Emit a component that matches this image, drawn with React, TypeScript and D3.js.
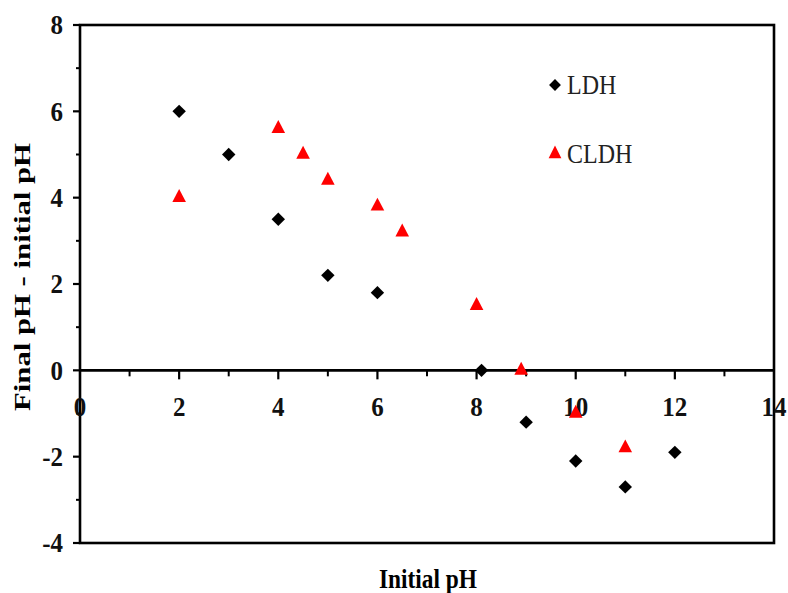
import React from 'react'
import * as d3 from 'd3'

// values
const ldhX = [2, 3, 4, 5, 6, 8.1, 9, 10, 11, 12]
const ldhY = [6, 5, 3.5, 2.2, 1.8, 0, -1.2, -2.1, -2.7, -1.9]
const cldhX = [2, 4, 4.5, 5, 6, 6.5, 8, 8.9, 10, 11]
const cldhY = [4, 5.6, 5, 4.4, 3.8, 3.2, 1.5, 0, -1, -1.8]
const xTicks = [0, 2, 4, 6, 8, 10, 12, 14]
const yTicks = [-4, -2, 0, 2, 4, 6, 8]
const xMinor = [1, 3, 5, 7, 9, 11, 13]
const yMinor = [-3, -1, 1, 3, 5, 7]

const W = 788
const H = 593
const margin = { top: 25, right: 14, bottom: 50, left: 80 }
const font = '"Liberation Serif", "Times New Roman", serif'

const App = () => {
  const x = d3.scaleLinear().domain([0, 14]).range([margin.left, W - margin.right])
  const y = d3.scaleLinear().domain([-4, 8]).range([H - margin.bottom, margin.top])

  const diamond = d3.symbol().type(d3.symbolSquare).size(90)()
  const triangle = d3.symbol().type(d3.symbolTriangle).size(80)()

  const x0 = x(0), x1 = x(14), y0 = y(0)
  const yTop = y(8), yBot = y(-4)

  return (
    <svg width={W} height={H} style={{ position: 'absolute', left: 0, top: 0, background: '#fff' }}
      fontFamily={font}>
      {/* frame */}
      <rect x={x0} y={yTop} width={x1 - x0} height={yBot - yTop} fill="none" stroke="#000" strokeWidth={2.6} />
      {/* zero line */}
      <line x1={x0} x2={x1} y1={y0} y2={y0} stroke="#000" strokeWidth={2.6} />

      {/* y ticks */}
      {yTicks.map(t => (
        <g key={'yt' + t}>
          <line x1={x0 - 7} x2={x0} y1={y(t)} y2={y(t)} stroke="#000" strokeWidth={2.2} />
          <text x={x0 - 17} y={y(t)} textAnchor="end" dominantBaseline="central" fontSize={25}
            fontWeight="bold" fill="#111"
            transform={`translate(0,${y(t)}) scale(1,1.12) translate(0,${-y(t)})`}>{t}</text>
        </g>
      ))}
      {yMinor.map(t => (
        <line key={'ym' + t} x1={x0 - 4} x2={x0} y1={y(t)} y2={y(t)} stroke="#000" strokeWidth={2} />
      ))}

      {/* x ticks on the zero line */}
      {xTicks.filter(t => t > 0 && t < 14).map(t => (
        <line key={'xt' + t} x1={x(t)} x2={x(t)} y1={y0} y2={y0 + 9} stroke="#000" strokeWidth={2.2} />
      ))}
      {xMinor.map(t => (
        <line key={'xm' + t} x1={x(t)} x2={x(t)} y1={y0} y2={y0 + 6} stroke="#000" strokeWidth={2} />
      ))}
      {xTicks.map(t => (
        <text key={'xl' + t} x={x(t)} y={y0 + 36} textAnchor="middle" dominantBaseline="central"
          fontSize={25} fontWeight="bold" fill="#111"
          transform={`translate(0,${y0 + 36}) scale(1,1.12) translate(0,${-(y0 + 36)})`}>{t}</text>
      ))}

      {/* axis titles */}
      <text x={428} y={588} textAnchor="middle" fontSize={24} fontWeight="bold"
        textLength={98} lengthAdjust="spacingAndGlyphs"
        transform="translate(0,588) scale(1,1.15) translate(0,-588)">Initial pH</text>
      <text transform="translate(30,277) rotate(-90)" textAnchor="middle" fontSize={23} fontWeight="bold"
        textLength={268} lengthAdjust="spacingAndGlyphs">Final pH - initial pH</text>

      {/* data */}
      {ldhX.map((v, i) => (
        <path key={'l' + i} d={diamond} fill="#000"
          transform={`translate(${x(v)},${y(ldhY[i])}) rotate(45)`} />
      ))}
      {cldhX.map((v, i) => (
        <path key={'c' + i} d={triangle} fill="#f00"
          transform={`translate(${x(v)},${y(cldhY[i])}) scale(1,1.1)`} />
      ))}

      {/* legend */}
      <path d={d3.symbol().type(d3.symbolSquare).size(70)()} fill="#000" transform="translate(555,85) rotate(45)" />
      <text x={567} y={85} dominantBaseline="central" fontSize={24} fill="#222"
        transform="translate(0,85) scale(1,1.12) translate(0,-85)">LDH</text>
      <path d={d3.symbol().type(d3.symbolTriangle).size(70)()} fill="#f00" transform="translate(555,154) scale(1,1.15)" />
      <text x={567} y={154} dominantBaseline="central" fontSize={24} fill="#222"
        transform="translate(0,154) scale(1,1.12) translate(0,-154)">CLDH</text>
    </svg>
  )
}

export default App
